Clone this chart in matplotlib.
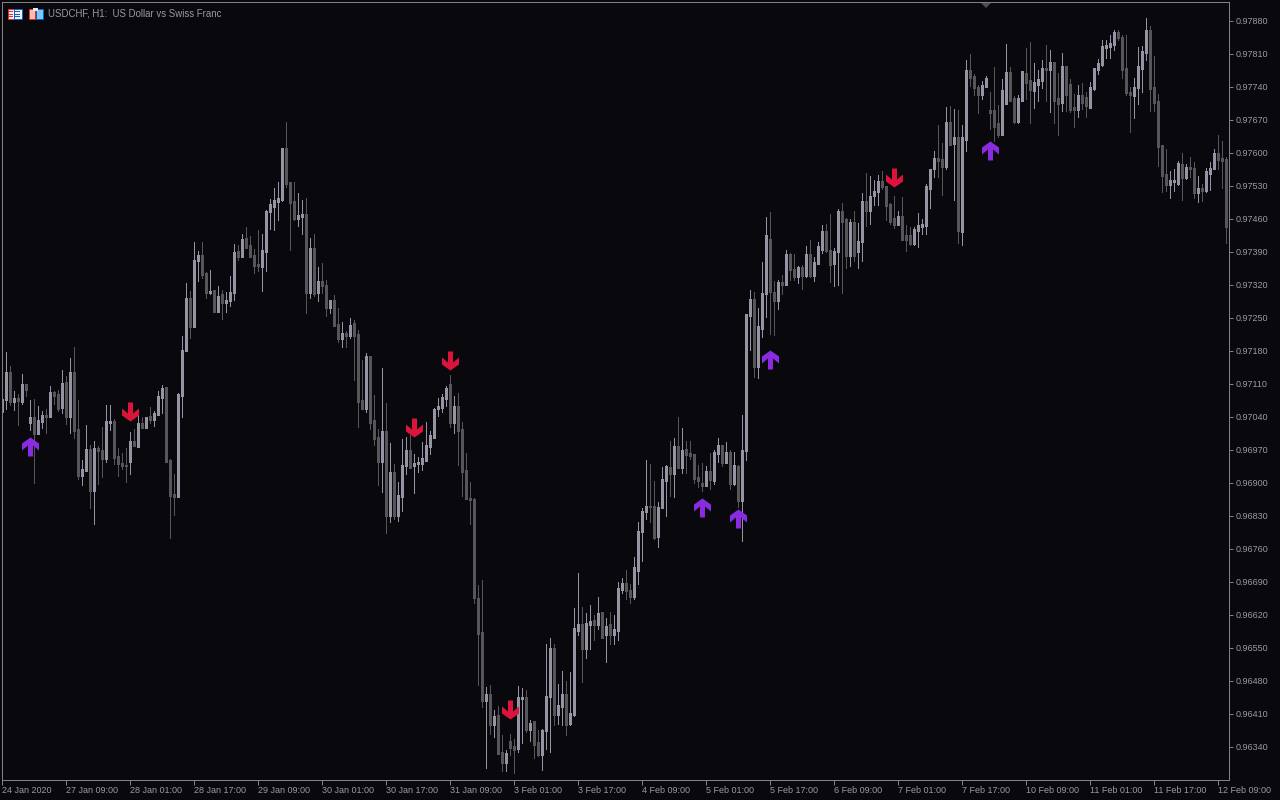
import matplotlib
matplotlib.use("Agg")
import matplotlib.pyplot as plt
import numpy as np
from matplotlib.path import Path
from matplotlib.patches import Rectangle, Polygon
from matplotlib.transforms import Affine2D

# hourly candles, prices in points (0.00001)
opens = [
    97051,97076,97135,97072,97080,97072,97108,97029,97040,97004,
    97031,97044,97042,97091,97088,97059,97114,97040,97135,97014,
    96915,96927,96972,96883,96974,96970,96951,97029,97031,96957,
    96942,96938,96946,96989,96978,97027,97018,97042,97035,97046,
    97082,97103,96948,96876,96872,97086,97180,97292,97231,97371,
    97383,97345,97305,97309,97263,97299,97282,97286,97303,97392,
    97381,97419,97403,97383,97364,97360,97392,97475,97487,97498,
    97502,97610,97538,97498,97462,97466,97470,97303,97398,97303,
    97328,97320,97273,97288,97237,97207,97218,97212,97239,97214,
    97074,97057,97169,97033,96997,96946,97010,96830,96923,96830,
    96872,96936,96968,96938,96942,96942,96948,96978,96997,97057,
    97059,97080,97108,97029,97063,97014,96927,96868,96866,96656,
    96582,96438,96452,96387,96406,96329,96306,96351,96340,96336,
    96442,96446,96376,96393,96349,96323,96374,96446,96548,96408,
    96425,96452,96389,96408,96586,96599,96548,96599,96609,96599,
    96626,96578,96599,96578,96588,96675,96686,96673,96660,96715,
    96798,96840,96851,96851,96787,96847,96906,96932,96921,96978,
    96932,96972,96963,96961,96912,96898,96895,96925,96906,96963,
    96980,96944,96965,96898,96934,96862,96968,97256,97290,97146,
    97228,97301,97417,97305,97288,97326,97322,97385,97352,97337,
    97358,97339,97385,97339,97366,97396,97434,97394,97366,97390,
    97475,97458,97383,97453,97392,97413,97498,97477,97509,97518,
    97539,97530,97490,97462,97449,97466,97424,97426,97407,97435,
    97445,97447,97524,97566,97589,97587,97572,97664,97621,97632,
    97433,97628,97774,97763,97740,97723,97742,97691,97691,97662,
    97640,97704,97770,97715,97666,97712,97768,97753,97732,97746,
    97753,97780,97776,97793,97715,97706,97783,97746,97696,97693,
    97721,97717,97696,97736,97778,97787,97823,97825,97831,97855,
    97846,97780,97729,97721,97738,97780,97814,97859,97738,97710,
    97615,97555,97534,97539,97536,97575,97549,97570,97568,97517,
    97524,97521,97557,97566,97598,97589,97587,
]
highs = [
    97079,97177,97148,97095,97088,97131,97108,97076,97078,97063,
    97052,97057,97105,97095,97097,97139,97127,97165,97188,97076,
    96948,97023,96980,96989,96978,97018,97065,97065,97035,96974,
    96963,96974,97008,97014,97046,97040,97040,97061,97052,97095,
    97108,97103,96951,96919,97091,97212,97324,97307,97411,97392,
    97411,97347,97352,97309,97318,97309,97305,97339,97407,97405,
    97428,97443,97424,97396,97436,97428,97479,97502,97526,97538,
    97610,97666,97538,97538,97515,97500,97504,97419,97428,97358,
    97366,97330,97288,97299,97271,97241,97222,97250,97246,97224,
    97161,97175,97169,97086,97014,97144,97069,96985,96940,96902,
    96993,96997,97001,96961,96955,96987,97029,97010,97059,97080,
    97088,97105,97129,97084,97091,97029,96963,96902,96868,96684,
    96694,96467,96472,96419,96427,96366,96334,96368,96357,96469,
    96465,96461,96397,96395,96376,96378,96559,96571,96559,96474,
    96501,96480,96499,96635,96709,96637,96624,96641,96620,96658,
    96626,96614,96626,96620,96690,96699,96715,96686,96743,96817,
    96846,96949,96940,96904,96859,96934,96938,96989,96995,97040,
    97016,96989,96989,96961,96938,96942,96936,96963,96970,96995,
    96980,96987,96970,96965,96938,97044,97258,97309,97305,97271,
    97368,97464,97475,97328,97330,97341,97394,97388,97385,97360,
    97362,97402,97415,97379,97411,97447,97449,97470,97398,97481,
    97494,97462,97460,97477,97451,97516,97557,97551,97543,97553,
    97562,97530,97494,97509,97477,97507,97447,97443,97443,97473,
    97460,97534,97566,97604,97660,97621,97698,97700,97693,97691,
    97660,97797,97810,97768,97744,97753,97763,97730,97783,97702,
    97757,97831,97783,97721,97723,97772,97823,97836,97791,97776,
    97797,97829,97819,97793,97770,97812,97785,97757,97725,97744,
    97749,97729,97751,97780,97800,97840,97840,97850,97861,97861,
    97850,97850,97740,97759,97825,97827,97886,97869,97806,97725,
    97617,97608,97562,97566,97583,97600,97577,97591,97581,97551,
    97534,97568,97581,97608,97638,97625,97591,
]
lows = [
    97051,97057,97065,97055,97023,97067,97084,97012,96900,97004,
    97016,97006,97042,97067,97052,97048,97025,97006,96995,96908,
    96895,96927,96847,96813,96898,96912,96944,97012,96940,96915,
    96929,96902,96919,96978,96978,97016,97016,97027,97021,97044,
    97048,96946,96783,96832,96870,97040,97180,97207,97231,97328,
    97335,97292,97301,97263,97263,97248,97263,97275,97288,97373,
    97379,97400,97379,97345,97350,97307,97350,97439,97436,97458,
    97498,97528,97394,97458,97445,97428,97260,97292,97296,97286,
    97303,97254,97260,97235,97199,97188,97188,97207,97118,97018,
    97057,97050,97014,96980,96895,96881,96794,96817,96823,96819,
    96840,96919,96932,96878,96923,96927,96948,96961,96995,97042,
    97050,97063,97018,97006,96938,96872,96866,96813,96646,96472,
    96425,96296,96368,96361,96325,96289,96289,96323,96285,96329,
    96349,96372,96353,96317,96321,96291,96336,96329,96387,96389,
    96387,96366,96387,96406,96578,96478,96529,96548,96567,96590,
    96571,96520,96559,96559,96567,96667,96654,96645,96654,96686,
    96734,96823,96817,96782,96765,96847,96830,96872,96870,96932,
    96921,96921,96951,96900,96891,96883,96893,96887,96898,96944,
    96936,96944,96887,96895,96849,96777,96949,97182,97125,97122,
    97209,97252,97216,97214,97269,97301,97320,97330,97330,97324,
    97311,97337,97337,97328,97364,97388,97390,97326,97318,97320,
    97303,97356,97360,97371,97356,97371,97445,97449,97490,97490,
    97524,97458,97450,97441,97447,97416,97392,97405,97405,97401,
    97428,97428,97483,97549,97549,97511,97566,97619,97500,97409,
    97405,97604,97742,97723,97685,97715,97742,97651,97626,97634,
    97640,97704,97712,97664,97664,97712,97715,97664,97696,97710,
    97738,97710,97687,97664,97638,97689,97689,97687,97655,97676,
    97693,97676,97696,97734,97768,97785,97802,97802,97819,97840,
    97759,97723,97645,97674,97704,97729,97797,97689,97689,97572,
    97517,97519,97505,97519,97532,97500,97545,97549,97505,97496,
    97498,97517,97521,97566,97566,97526,97409,
]
closes = [
    97077,97135,97072,97080,97074,97108,97099,97040,97004,97033,
    97044,97042,97091,97086,97057,97112,97040,97135,97012,96915,
    96929,96972,96883,96974,96968,96951,97031,97031,96955,96942,
    96938,96936,96989,96980,97027,97018,97040,97035,97048,97084,
    97101,96946,96874,96872,97088,97182,97292,97231,97373,97383,
    97343,97305,97307,97263,97296,97282,97288,97305,97390,97381,
    97417,97400,97381,97362,97362,97394,97477,97490,97500,97504,
    97610,97536,97494,97462,97468,97470,97305,97398,97301,97328,
    97318,97273,97288,97235,97207,97218,97212,97235,97212,97072,
    97057,97169,97029,96995,96946,97010,96830,96923,96830,96874,
    96938,96968,96932,96942,96944,96951,96980,97000,97055,97063,
    97082,97101,97029,97063,97012,96925,96866,96864,96656,96580,
    96438,96452,96387,96404,96327,96308,96327,96338,96334,96446,
    96446,96376,96389,96346,96323,96376,96448,96548,96408,96427,
    96452,96387,96410,96592,96599,96548,96601,96607,96599,96624,
    96573,96595,96578,96590,96677,96686,96671,96660,96720,96798,
    96840,96851,96849,96785,96849,96908,96934,96921,96978,96932,
    96970,96961,96959,96910,96906,96895,96925,96908,96965,96980,
    96944,96965,96898,96938,96862,96970,97258,97290,97148,97231,
    97303,97424,97307,97288,97326,97322,97385,97352,97337,97358,
    97339,97385,97339,97368,97402,97434,97394,97364,97392,97475,
    97455,97383,97453,97383,97413,97498,97477,97507,97519,97539,
    97528,97488,97454,97449,97466,97416,97416,97407,97437,97447,
    97449,97528,97564,97589,97585,97572,97664,97619,97632,97435,
    97632,97774,97761,97738,97723,97744,97759,97685,97657,97640,
    97732,97770,97712,97666,97715,97772,97749,97734,97749,97755,
    97780,97776,97793,97712,97704,97783,97725,97693,97693,97721,
    97708,97700,97740,97780,97789,97825,97829,97833,97855,97844,
    97778,97729,97723,97740,97783,97816,97859,97736,97708,97613,
    97553,97534,97541,97541,97577,97549,97570,97566,97517,97524,
    97521,97560,97568,97598,97587,97585,97443,
]

# signal arrows: bar index and the price the arrow tip sits at
up_bars = [7, 175, 184, 192, 247]
up_tips = [96997, 96868, 96845, 97182, 97625]
down_bars = [32, 103, 112, 127, 223]
down_tips = [97031, 96997, 97140, 96399, 97528]

price_ticks = list(range(96340, 97881, 70))
time_labels = [
    "24 Jan 2020", "27 Jan 09:00", "28 Jan 01:00", "28 Jan 17:00", "29 Jan 09:00",
    "30 Jan 01:00", "30 Jan 17:00", "31 Jan 09:00", "3 Feb 01:00", "3 Feb 17:00",
    "4 Feb 09:00", "5 Feb 01:00", "5 Feb 17:00", "6 Feb 09:00", "7 Feb 01:00",
    "7 Feb 17:00", "10 Feb 09:00", "11 Feb 01:00", "11 Feb 17:00", "12 Feb 09:00",
]
title = "USDCHF, H1:  US Dollar vs Swiss Franc"

BG = "#08080d"
FRAME = "#808087"
TEXT = "#9a9aa2"
UP = "#9494a3"
DOWN = "#55555a"
W, H = 1280, 800

plt.rcParams["font.family"] = ["Liberation Sans", "DejaVu Sans"]

fig = plt.figure(figsize=(W / 100, H / 100), dpi=100, facecolor=BG)
ax = fig.add_axes([2 / W, 1 - 780 / H, 1227 / W, 778 / H], facecolor=BG)

o = np.array(opens) / 1e5
h = np.array(highs) / 1e5
l = np.array(lows) / 1e5
c = np.array(closes) / 1e5
xs = np.arange(len(o))
colors = [UP if a >= b else DOWN for a, b in zip(c, o)]

# candles: thin wick, 3 px body, pad keeps dojis visible
pad = 1e-5
ax.vlines(xs, l, h, colors=colors, linewidth=0.72, antialiased=False, capstyle="butt")
ax.vlines(xs, np.minimum(o, c) - pad, np.maximum(o, c) + pad, colors=colors,
          linewidth=2.16, antialiased=False, capstyle="butt")


def arrow_marker(sign):
    # tip at the origin, sizes in pixels
    pts = [(0, 0), (8.5, -6), (8.5, -13), (2.5, -8), (2.5, -19),
           (-2.5, -19), (-2.5, -8), (-8.5, -13), (-8.5, -6), (0, 0)]
    return Path([(a, sign * b) for a, b in pts], closed=True)


ax.plot(up_bars, np.array(up_tips) / 1e5, ls="", marker=arrow_marker(1), ms=27.36,
        mfc="#8a2be2", mec="none", zorder=5)
ax.plot(down_bars, np.array(down_tips) / 1e5, ls="", marker=arrow_marker(-1), ms=27.36,
        mfc="#dc143c", mec="none", zorder=5)

ax.set_xlim(-0.05, 306.7)
ax.set_ylim(0.962699, 0.979203)

ax.yaxis.tick_right()
ax.set_yticks(np.array(price_ticks) / 1e5)
ax.set_yticklabels([f"{p / 1e5:.5f}" for p in price_ticks])
ax.set_xticks(np.arange(len(time_labels)) * 16)
ax.set_xticklabels(time_labels, ha="left")
ax.tick_params(axis="y", length=2.9, width=0.72, color=FRAME, labelcolor=TEXT, labelsize=6.5, pad=1.8)
ax.tick_params(axis="x", length=3.6, width=0.72, color=FRAME, labelcolor=TEXT, labelsize=6.5, pad=0.8)
for s in ax.spines.values():
    s.set_color(FRAME)
    s.set_linewidth(0.72)

# header: pixel coords from the top left
px = Affine2D().scale(1, -1).translate(0, H)


def box(x, y, w, h_, fc, ec="none"):
    fig.add_artist(Rectangle((x, y), w, h_, transform=px, fc=fc, ec=ec, lw=0.72))


box(7.5, 8.5, 6.5, 10, "#f2f2f6", "#e03030")
box(14, 8.5, 7.5, 10, "#f2f2f6", "#1060c0")
for yy in (11, 13.5, 16):
    box(9, yy, 4, 1.2, "#e03030")
    box(15, yy, 5, 1.2, "#1060c0")
box(28.5, 8.5, 6.5, 10, "#f6c0b0", "#e03030")
box(36, 8.5, 6.5, 10, "#80c8f0", "#1060c0")
box(33, 7.5, 5, 3.5, "#e8e8ec")

fig.text(48 / W, 1 - 13.5 / H, title, color=TEXT, fontsize=6.95, va="center", ha="left")

# chart shift mark on the top edge
fig.add_artist(Polygon([(981, 3), (991, 3), (986, 8)], closed=True, transform=px,
                       fc="#4a4e58", ec="none"))

fig.savefig("out.png", dpi=100, facecolor=BG)
